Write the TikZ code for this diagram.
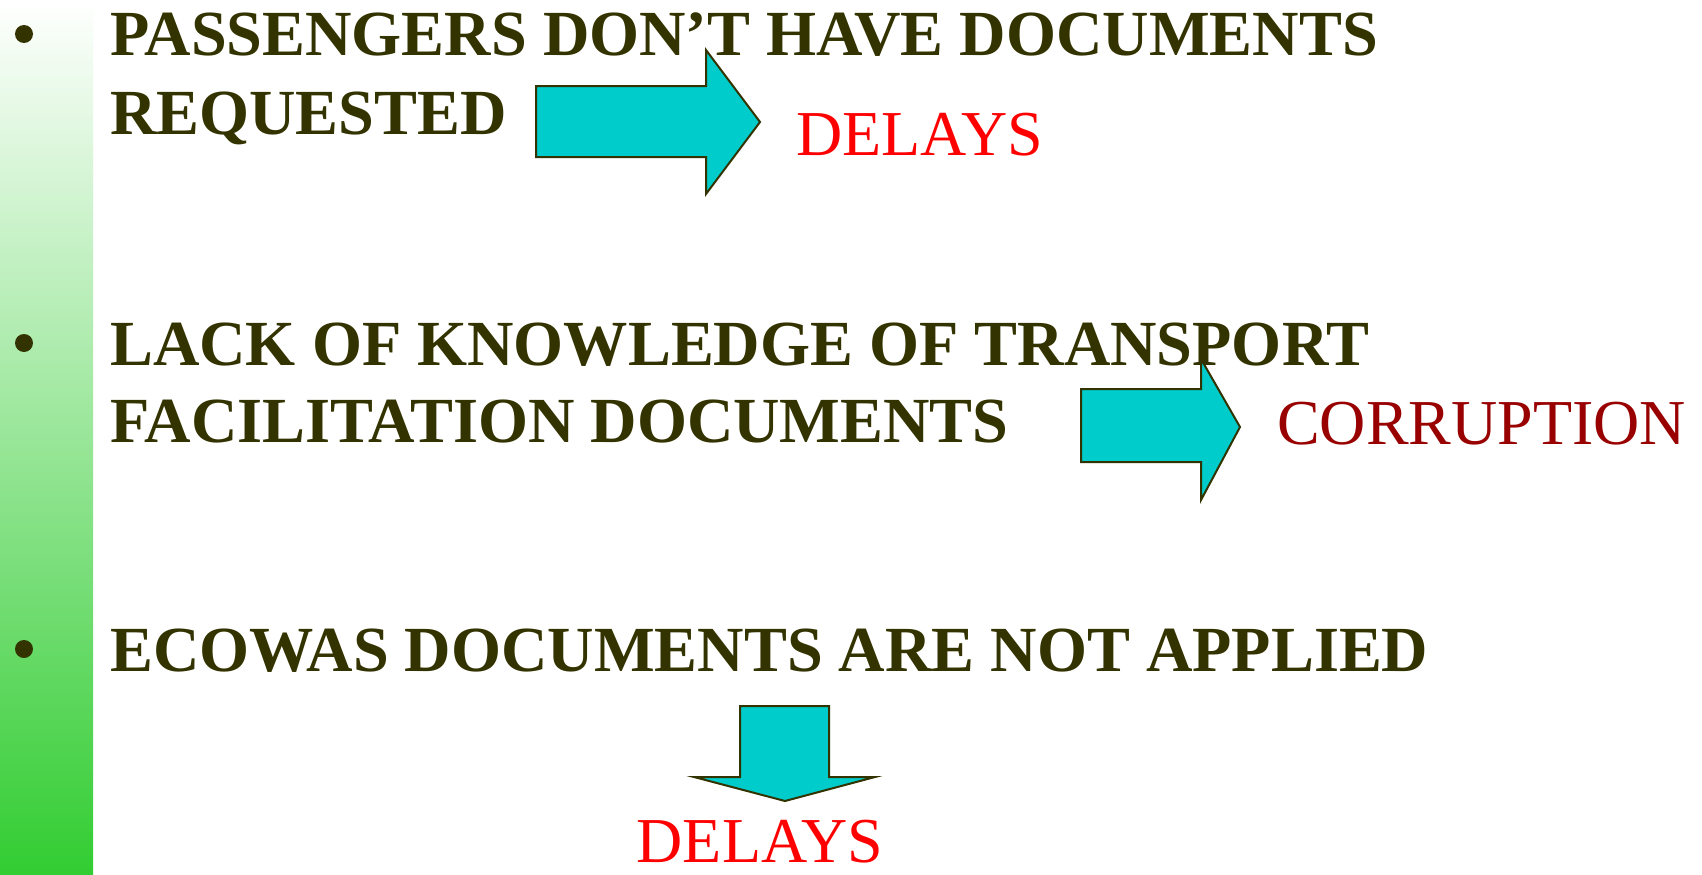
\documentclass[tikz,border=0pt]{standalone}
\usepackage{fontspec}
\setmainfont{Liberation Serif}
\definecolor{olivetext}{RGB}{51,51,0}
\definecolor{arrowfill}{RGB}{0,204,204}
\definecolor{barGreen}{RGB}{50,205,50}
\definecolor{darkred}{RGB}{153,0,0}
\begin{document}
\begin{tikzpicture}[x=1pt,y=-1pt,
  bodytext/.style={anchor=base west,inner sep=0pt,text=olivetext,font=\fontsize{64.3}{77}\selectfont\bfseries},
  redtext/.style={anchor=base west,inner sep=0pt,text=red,font=\fontsize{64}{77}\selectfont},
  bulletdot/.style={circle,fill=olivetext,inner sep=0pt,minimum size=18pt},
  blockarrow/.style={fill=arrowfill,draw=olivetext,line width=2pt,line join=miter}]
\useasboundingbox (0,0) rectangle (1702,875);
\fill[white] (0,0) rectangle (1702,875);
\shade[top color=white,bottom color=barGreen] (0,0) rectangle (93,875);
% bullets
\node[bulletdot] (b1) at (24,34) {};
\node[bulletdot] (b2) at (24,343) {};
\node[bulletdot] (b3) at (24,649) {};
% texts
\node[bodytext] (t1) at (110,56) {PASSENGERS DON’T HAVE DOCUMENTS};
\node[bodytext] (t2) at (110,134) {REQUESTED};
\node[bodytext] (t3) at (110,365) {LACK OF KNOWLEDGE OF TRANSPORT};
\node[bodytext] (t4) at (110,442) {FACILITATION DOCUMENTS};
\node[bodytext] (t5) at (110,671) {ECOWAS DOCUMENTS ARE NOT APPLIED};
% arrows
\draw[blockarrow] (536,86) -- (706,86) -- (706,50) -- (760,122) -- (706,194) -- (706,157) -- (536,157) -- cycle;
\draw[blockarrow] (1081,389) -- (1201,389) -- (1201,359) -- (1240,427) -- (1201,500) -- (1201,462) -- (1081,462) -- cycle;
\draw[blockarrow] (740,706) -- (829,706) -- (829,777) -- (875,777) -- (785,801) -- (694,777) -- (740,777) -- cycle;
% results
\node[redtext] (r1) at (796,155) {DELAYS};
\node[redtext,text=darkred] (r2) at (1277,444) {CORRUPTION};
\node[redtext,anchor=base] (r3) at (760,862) {DELAYS};
\end{tikzpicture}
\end{document}
